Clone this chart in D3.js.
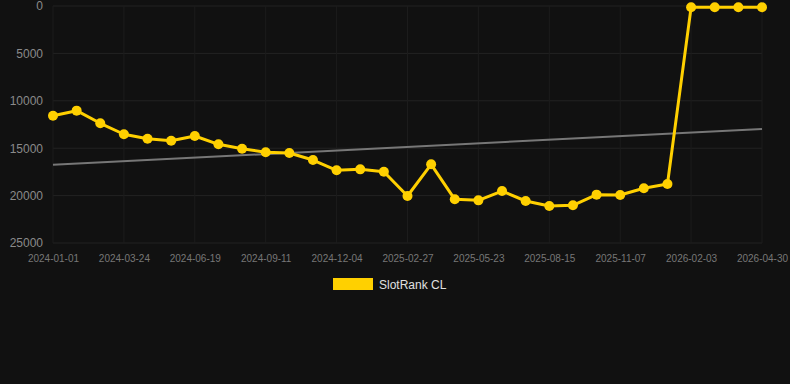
<!DOCTYPE html>
<html><head><meta charset="utf-8">
<script src="https://cdn.jsdelivr.net/npm/d3@7"></script>
<style>html,body{margin:0;padding:0;background:#111111;}svg{display:block;}</style>
</head><body>
<svg id="chart" width="790" height="384"></svg>
<script>
const dates = ["2024-01-01","2024-01-29","2024-02-26","2024-03-24","2024-04-22","2024-05-21","2024-06-19","2024-07-17","2024-08-14","2024-09-11","2024-10-09","2024-11-06","2024-12-04","2025-01-01","2025-01-29","2025-02-27","2025-03-27","2025-04-24","2025-05-23","2025-06-20","2025-07-18","2025-08-15","2025-09-12","2025-10-10","2025-11-07","2025-12-06","2026-01-04","2026-02-03","2026-03-04","2026-04-01","2026-04-30"];
const ranks = [11570,11040,12370,13530,14000,14210,13710,14590,15050,15430,15510,16250,17330,17230,17480,20040,16700,20390,20500,19520,20570,21100,21020,19900,19940,19230,18780,140,140,140,140];
const trend = [16750,12980];
const yTicks = [0,5000,10000,15000,20000,25000];
const xTickLabels = ["2024-01-01","2024-03-24","2024-06-19","2024-09-11","2024-12-04","2025-02-27","2025-05-23","2025-08-15","2025-11-07","2026-02-03","2026-04-30"];
const seriesName = "SlotRank CL";

(function(){
const svg = d3.select("#chart");
const mL = 53, mR = 762, mT = 6, mB = 243;
const x = d3.scalePoint().domain(dates).range([mL, mR]);
const y = d3.scaleLinear().domain([0, 25000]).range([mT, mB]);
const font = "Arial, 'Liberation Sans', sans-serif";

// grid
svg.append("g").selectAll("line").data(yTicks).join("line")
  .attr("x1", mL).attr("x2", mR).attr("y1", d => y(d)).attr("y2", d => y(d))
  .attr("stroke", "#232323").attr("stroke-width", 1);
svg.append("g").selectAll("line").data(xTickLabels).join("line")
  .attr("x1", d => x(d)).attr("x2", d => x(d)).attr("y1", mT).attr("y2", mB)
  .attr("stroke", "#1c1c1c").attr("stroke-width", 1);

// y axis labels
const yAxis = d3.axisLeft(y).tickValues(yTicks).tickSize(0).tickPadding(10).tickFormat(d3.format("d"));
const gy = svg.append("g").attr("transform", `translate(${mL},0)`).call(yAxis);
gy.select(".domain").remove();
gy.selectAll("text").attr("fill", "#8a8a8a").attr("font-size", 12).attr("font-family", font);

// x axis
const xAxis = d3.axisBottom(x).tickValues(xTickLabels).tickSize(0).tickPadding(12);
const gx = svg.append("g").attr("transform", `translate(0,${mB})`).call(xAxis);
gx.select(".domain").remove();
gx.selectAll("text").attr("fill", "#777").attr("font-size", 10).attr("font-family", font);

// trend line
svg.append("line")
  .attr("x1", x(dates[0])).attr("x2", x(dates[dates.length-1]))
  .attr("y1", y(trend[0])).attr("y2", y(trend[1]))
  .attr("stroke", "#777").attr("stroke-width", 2);

// series
const line = d3.line().x((d,i) => x(dates[i])).y(d => y(d));
svg.append("path").datum(ranks).attr("d", line)
  .attr("fill", "none").attr("stroke", "#FFD000").attr("stroke-width", 3).attr("stroke-linejoin", "round");
svg.append("g").selectAll("circle").data(ranks).join("circle")
  .attr("cx", (d,i) => x(dates[i])).attr("cy", d => y(d)).attr("r", 5)
  .attr("fill", "#FFD000");

// legend
svg.append("rect").attr("x", 333).attr("y", 278).attr("width", 40).attr("height", 12).attr("fill", "#FFD000");
svg.append("text").attr("x", 379).attr("y", 289).text(seriesName)
  .attr("fill", "#e0e0e0").attr("font-size", 12).attr("font-family", font);
})();
</script>
</body></html>
